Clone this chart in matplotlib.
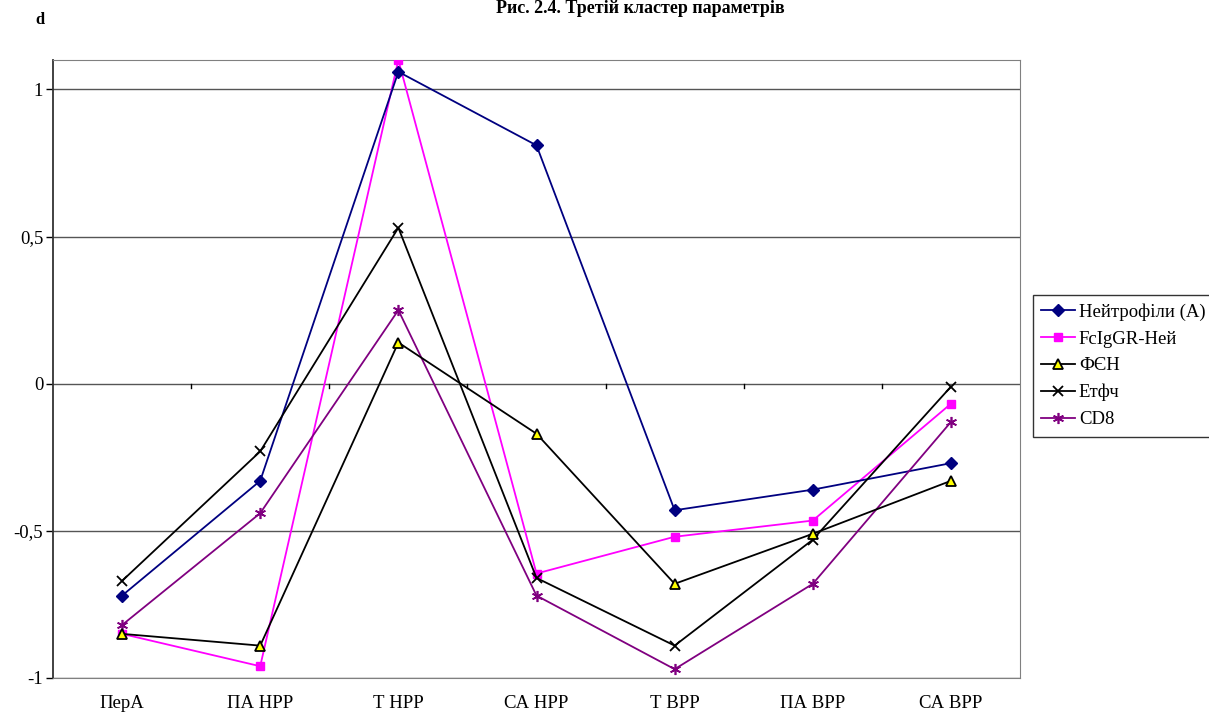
import numpy as np
import matplotlib.pyplot as plt

plt.rcParams['font.family'] = ['Liberation Serif', 'DejaVu Serif']

categories = ['ПерА', 'ПА НРР', 'Т НРР', 'СА НРР', 'Т ВРР', 'ПА ВРР', 'СА ВРР']

neutrophils = [-0.72, -0.33, 1.06, 0.81, -0.43, -0.36, -0.27]
fcigr = [-0.85, -0.96, 1.10, -0.645, -0.52, -0.465, -0.068]
fen = [-0.85, -0.89, 0.14, -0.17, -0.68, -0.51, -0.33]
etfch = [-0.67, -0.23, 0.53, -0.66, -0.89, -0.53, -0.01]
cd8 = [-0.82, -0.44, 0.25, -0.72, -0.97, -0.68, -0.13]

fig = plt.figure(figsize=(12.09, 7.13), dpi=100)
ax = fig.add_axes([53 / 1209, 35 / 713, 967 / 1209, 618 / 713])

x = np.arange(len(categories))

ax.plot(x, neutrophils, color='#000080', lw=1.3, marker='D', ms=6,
        mfc='#000080', mec='#000080', label='Нейтрофіли (А)', zorder=5)
ax.plot(x, fcigr, color='#ff00ff', lw=1.3, marker='s', ms=6,
        mfc='#ff00ff', mec='#ff00ff', label='FcIgGR-Ней', zorder=4)
ax.plot(x, fen, color='black', lw=1.3, marker='^', ms=7,
        mfc='#ffff00', mec='black', mew=1.3, label='ФЄН', zorder=6)
ax.plot(x, etfch, color='black', lw=1.3, marker='x', ms=7, mew=1.3,
        label='Етфч', zorder=5)
ax.plot(x, cd8, color='#800080', lw=1.3, marker=(6, 2, 0), ms=8, mew=1.2,
        mec='#800080', label='CD8', zorder=5)

ax.set_xlim(-0.5, len(categories) - 0.5)
ax.set_ylim(-1, 1.1)
ax.set_yticks([-1, -0.5, 0, 0.5, 1])
ax.set_yticklabels(['-1', '-0,5', '0', '0,5', '1'])
ax.yaxis.grid(True, color='#555555', lw=1)
ax.set_axisbelow(True)

# категорійна вісь перетинає на 0: засічки на межах категорій
ax.set_xticks(x)
ax.set_xticklabels(categories)
ax.tick_params(axis='x', length=0, labelsize=13.5, pad=12)
ax.tick_params(axis='y', length=5, direction='out', labelsize=13.5, width=1, pad=2)
for b in np.arange(0.5, len(categories) - 0.5, 1):
    ax.plot([b, b], [0, -0.013], color='black', lw=1, zorder=3)

for side in ['top', 'right', 'bottom']:
    ax.spines[side].set_color('#808080')
ax.spines['left'].set_color('#333333')
ax.spines['left'].set_linewidth(1.3)

fig.text(0.53, 0.988, 'Рис. 2.4. Третій кластер параметрів', ha='center',
         va='center', fontsize=13, fontweight='bold')
fig.text(40 / 1209, 1 - 20 / 713, 'd', ha='center', va='center',
         fontsize=12, fontweight='bold')

leg = ax.legend(loc='upper left', bbox_to_anchor=(1033 / 1209, 1 - 295 / 713),
                bbox_transform=fig.transFigure, frameon=True, fancybox=False,
                fontsize=13.5, borderpad=0.45, labelspacing=0.51,
                handlelength=1.8, handletextpad=0.2, borderaxespad=0)
leg.get_frame().set_edgecolor('black')
leg.get_frame().set_linewidth(1)

fig.savefig('out.png', dpi=100)
